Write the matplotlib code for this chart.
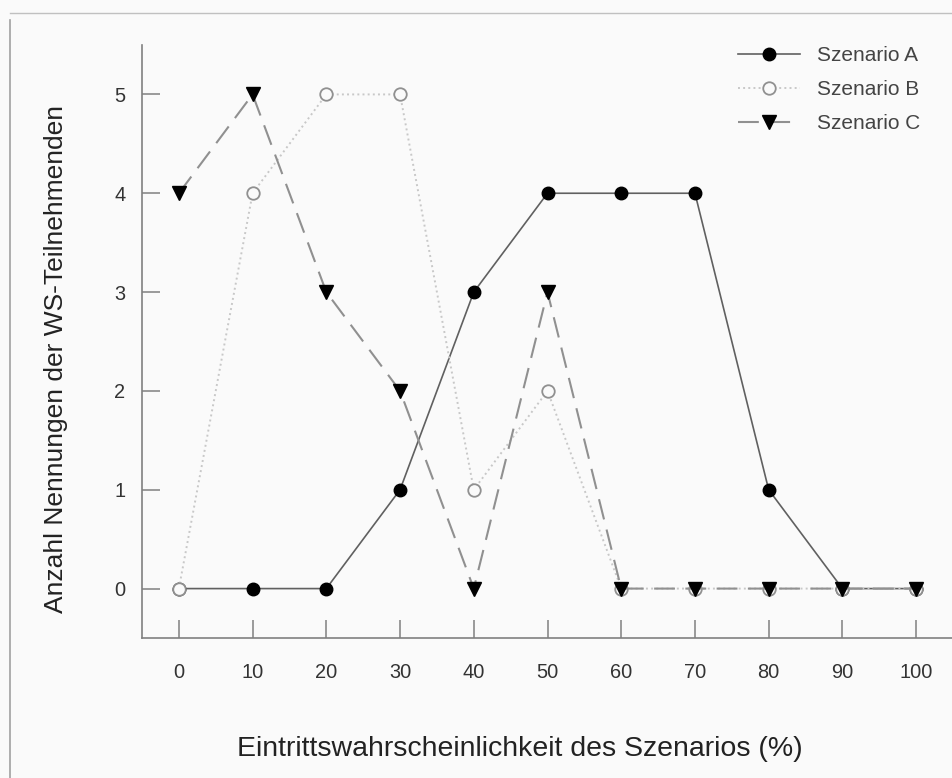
import matplotlib.pyplot as plt
from matplotlib.lines import Line2D

plt.rcParams['font.family'] = ['Liberation Sans', 'DejaVu Sans']

x_values = [0, 10, 20, 30, 40, 50, 60, 70, 80, 90, 100]
scenario_a = [0, 0, 0, 1, 3, 4, 4, 4, 1, 0, 0]
scenario_b = [0, 4, 5, 5, 1, 2, 0, 0, 0, 0, 0]
scenario_c = [4, 5, 3, 2, 0, 3, 0, 0, 0, 0, 0]
labels = ['Szenario A', 'Szenario B', 'Szenario C']


def main():
    fig = plt.figure(figsize=(9.53, 7.78), dpi=100, facecolor='#fafafa')
    ax = fig.add_axes([142 / 953, 140 / 778, 811 / 953, 593 / 778])
    ax.set_facecolor('#fafafa')

    ax.plot(x_values, scenario_a, color='#606060', linewidth=1.2, linestyle='-',
            marker='o', markersize=9, markerfacecolor='black',
            markeredgecolor='black', label=labels[0])
    ax.plot(x_values, scenario_b, color='#c8c8c8', linewidth=1.4, linestyle=':',
            marker='o', markersize=9, markerfacecolor='#fafafa',
            markeredgecolor='#909090', markeredgewidth=1.3, label=labels[1])
    ax.plot(x_values, scenario_c, color='#909090', linewidth=1.5,
            linestyle=(0, (10, 5)), marker='v', markersize=10,
            markerfacecolor='black', markeredgecolor='black', label=labels[2])

    ax.set_xlim(-5, 105)
    ax.set_ylim(-0.5, 5.5)
    ax.set_xticks(x_values)
    ax.set_yticks(range(6))
    for side in ('top', 'right'):
        ax.spines[side].set_visible(False)
    for side in ('left', 'bottom'):
        ax.spines[side].set_color('#808080')
        ax.spines[side].set_linewidth(1.2)
    ax.tick_params(direction='in', length=13, width=1.1, color='#808080',
                   labelsize=14.4, labelcolor='#333333', pad=18)
    ax.tick_params(axis='y', pad=12)

    ax.set_xlabel('Eintrittswahrscheinlichkeit des Szenarios (%)',
                  fontsize=20.5, color='#222222')
    ax.xaxis.set_label_coords(0.466, -0.165)
    ax.set_ylabel('Anzahl Nennungen der WS-Teilnehmenden',
                  fontsize=19, color='#222222')
    ax.yaxis.set_label_coords(-0.091, 0.47)

    leg = ax.legend(loc='upper left', bbox_to_anchor=(738 / 953, 1 - 46 / 778),
                    bbox_transform=fig.transFigure, borderaxespad=0, borderpad=0,
                    frameon=False, fontsize=15, handlelength=3.0,
                    labelspacing=0.72, handletextpad=0.8)
    for text in leg.get_texts():
        text.set_color('#444444')

    # scanned page border
    fig.add_artist(Line2D([10 / 953, 10 / 953], [0, 1 - 20 / 778],
                          transform=fig.transFigure, color='#a0a0a0', linewidth=1.2))
    fig.add_artist(Line2D([10 / 953, 1], [1 - 13 / 778, 1 - 13 / 778],
                          transform=fig.transFigure, color='#c0c0c0', linewidth=1.0))

    fig.savefig('out.png', dpi=100, facecolor=fig.get_facecolor())
    plt.close(fig)


if __name__ == '__main__':
    main()
